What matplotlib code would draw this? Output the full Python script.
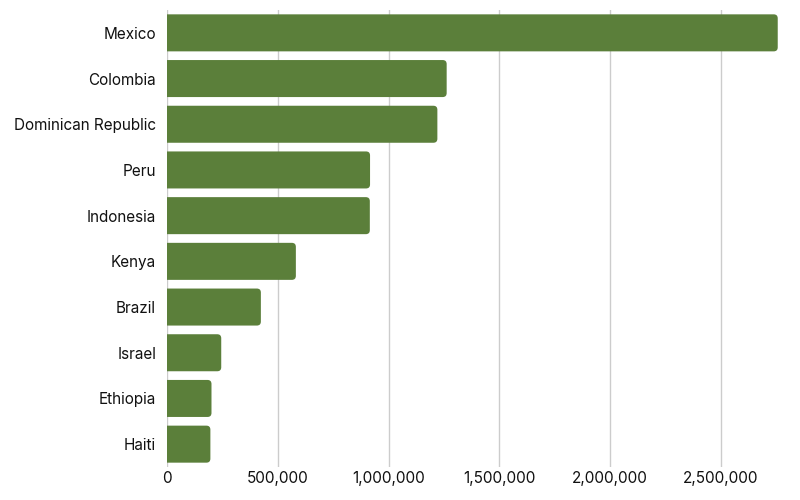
import matplotlib.pyplot as plt
from matplotlib.patches import FancyBboxPatch
from matplotlib.ticker import FuncFormatter

plt.rcParams.update({
    'font.family': ['Inter', 'DejaVu Sans'],
    'font.size': 11,
})

countries = ['Mexico', 'Colombia', 'Dominican Republic', 'Peru', 'Indonesia',
             'Kenya', 'Brazil', 'Israel', 'Ethiopia', 'Haiti']
values = [2757000, 1262000, 1220000, 916000, 915000,
          581000, 423000, 244000, 200000, 195000]

BAR_COLOR = '#5b7f3a'
GRID_COLOR = '#cccccc'

fig = plt.figure(figsize=(8, 5), dpi=100)
ax = fig.add_axes([0.209, 0.066, 0.764, 0.914])

xmax = 2760000
ax.set_xlim(0, xmax)
ax.set_ylim(len(countries) - 0.5, -0.5)

# rounded bars: size radius in pixels, convert to data units
bbox = ax.get_window_extent()
x_per_px = xmax / bbox.width
y_per_px = len(countries) / bbox.height
r_px = 4
bar_h = 0.81
for i, v in enumerate(values):
    start = -3 * r_px * x_per_px
    p = FancyBboxPatch((start, i - bar_h / 2), v - start, bar_h,
                       boxstyle=f"round,pad=0,rounding_size={r_px * x_per_px}",
                       mutation_aspect=y_per_px / x_per_px,
                       facecolor=BAR_COLOR, edgecolor='none', zorder=3)
    ax.add_patch(p)

ax.set_yticks(range(len(countries)))
ax.set_yticklabels(countries)
ax.set_xticks([0, 500000, 1000000, 1500000, 2000000, 2500000])
ax.xaxis.set_major_formatter(FuncFormatter(lambda x, _: f"{int(x):,}"))

ax.grid(axis='x', color=GRID_COLOR, linewidth=1, zorder=0)
for s in ax.spines.values():
    s.set_visible(False)
ax.tick_params(axis='both', length=0, colors='#111111', labelsize=11)
ax.tick_params(axis='y', pad=8)
ax.tick_params(axis='x', pad=3)

fig.savefig('out.png', dpi=100)
